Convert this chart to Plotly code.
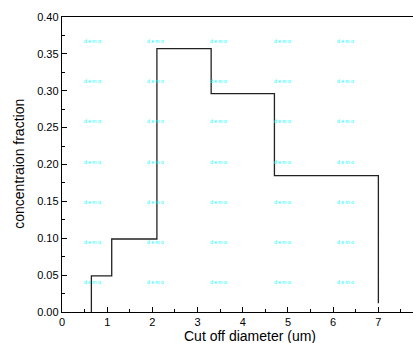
import plotly.graph_objects as go

# Step histogram: bin edges (um) and concentration fraction per bin
edges = [0.65, 1.1, 2.1, 3.3, 4.7, 7.0]
fractions = [0.049, 0.099, 0.357, 0.296, 0.185]
end_value = 0.012
x_ticks = [0, 1, 2, 3, 4, 5, 6, 7]
y_ticks = [0.00, 0.05, 0.10, 0.15, 0.20, 0.25, 0.30, 0.35, 0.40]

# build step path from the data
xs = [edges[0]]
ys = [0.0]
for i, v in enumerate(fractions):
    xs += [edges[i], edges[i + 1]]
    ys += [v, v]
xs.append(edges[-1])
ys.append(end_value)

fig = go.Figure()
fig.add_trace(go.Scatter(x=xs, y=ys, mode="lines",
                         line=dict(color="#222222", width=1.3),
                         showlegend=False, hoverinfo="skip"))

# watermark "demo" labels (paper positions)
demo_x = [0.0855, 0.267, 0.447, 0.628, 0.809]
demo_y = [0.919, 0.783, 0.647, 0.508, 0.373, 0.237, 0.102]
for px in demo_x:
    for py in demo_y:
        fig.add_annotation(x=px, y=py, xref="paper", yref="paper",
                           xanchor="center", yanchor="middle",
                           text="d e m o", showarrow=False,
                           font=dict(size=5, color="#00ffff", family="Arial, Liberation Sans"))

fig.add_annotation(x=0.537, y=-0.081, xref="paper", yref="paper",
                   xanchor="center", yanchor="middle",
                   text="Cut off diameter (um)", showarrow=False,
                   font=dict(size=14, color="black", family="Arial, Liberation Sans"))
fig.add_annotation(x=-0.125, y=0.503, xref="paper", yref="paper", textangle=-90,
                   xanchor="center", yanchor="middle",
                   text="concentraion fraction", showarrow=False,
                   font=dict(size=14, color="black", family="Arial, Liberation Sans"))

fig.update_layout(
    width=413, height=343,
    margin=dict(l=62, r=0, t=17, b=31),
    paper_bgcolor="white", plot_bgcolor="white",
    font=dict(family="Arial, Liberation Sans", size=11, color="black"),
    xaxis=dict(range=[0, 7.766], tickvals=x_ticks, ticktext=[str(t) for t in x_ticks],
               ticks="inside", ticklen=5, tickwidth=1, tickcolor="black",
               minor=dict(dtick=0.5, ticks="inside", ticklen=3, tickcolor="black"),
               showline=True, linecolor="black", linewidth=1.2, mirror=True,
               showgrid=False, zeroline=False, fixedrange=True),
    yaxis=dict(range=[0, 0.40], tickvals=y_ticks, ticktext=[f"{t:.2f}" for t in y_ticks],
               ticks="inside", ticklen=5, tickwidth=1, tickcolor="black",
               minor=dict(dtick=0.025, ticks="inside", ticklen=3, tickcolor="black"),
               showline=True, linecolor="black", linewidth=1.2,
               showgrid=False, zeroline=False, fixedrange=True),
)

fig.write_html("out.html", config={"displayModeBar": False, "staticPlot": True},
               post_script="document.body.style.margin='0';document.body.style.overflow='hidden';")
